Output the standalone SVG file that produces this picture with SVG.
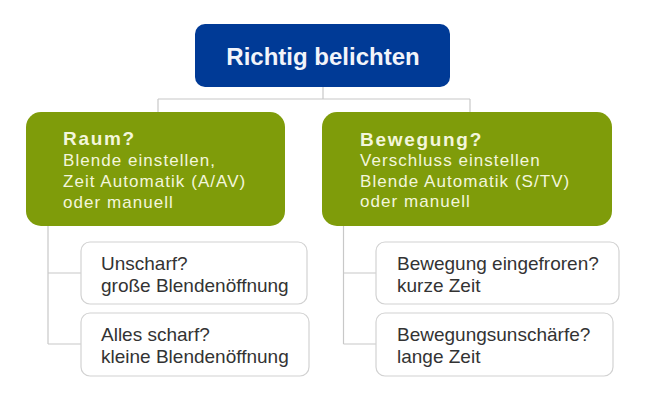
<svg xmlns="http://www.w3.org/2000/svg" width="646" height="400" viewBox="0 0 646 400">
<style>
.conn{fill:none;stroke:#c8c8c8;stroke-width:1.2}
.top{fill:#003a96}
.green{fill:#7f9c0a}
.child{fill:#ffffff;stroke:#d2d2d2;stroke-width:1.2}
.ttop{font-family:"Liberation Sans",Arial,sans-serif;font-weight:bold;font-size:24px;fill:#f2f4fa}
.gh{font-family:"Liberation Sans",Arial,sans-serif;font-weight:bold;font-size:19px;letter-spacing:1.7px;fill:#f3f6dc}
.gt{font-family:"Liberation Sans",Arial,sans-serif;font-size:17px;letter-spacing:1.05px;fill:#f3f6dc}
.ct{font-family:"Liberation Sans",Arial,sans-serif;font-size:19px;fill:#333333}
</style>
<rect width="646" height="400" fill="#ffffff"/>
<g id="connectors">
<path class="conn" d="M323 87 V99 M158 99 H470 M158 99 V112 M470 99 V112"/>
<path class="conn" d="M48 226 V344 M48 273 H81 M48 344 H81"/>
<path class="conn" d="M343.5 226 V344 M343.5 273 H376 M343.5 344 H376"/>
</g>
<g id="root">
<rect class="top" x="195" y="24" width="255" height="63" rx="10"/>
<text class="ttop" x="323" y="65" text-anchor="middle">Richtig belichten</text>
</g>
<g id="raum">
<rect class="green" x="26" y="112" width="259" height="114" rx="15"/>
<text class="gh" x="63" y="145">Raum?</text>
<text class="gt" x="63" y="166">Blende einstellen,</text>
<text class="gt" x="63" y="187">Zeit Automatik (A/AV)</text>
<text class="gt" x="63" y="208">oder manuell</text>
</g>
<g id="bewegung">
<rect class="green" x="322" y="112" width="290" height="114" rx="15"/>
<text class="gh" x="360" y="145.5">Bewegung?</text>
<text class="gt" x="360" y="166">Verschluss einstellen</text>
<text class="gt" x="360" y="186.5">Blende Automatik (S/TV)</text>
<text class="gt" x="360" y="207">oder manuell</text>
</g>
<g id="unscharf">
<rect class="child" x="81" y="242" width="226" height="62" rx="9"/>
<text class="ct" x="101" y="270">Unscharf?</text>
<text class="ct" x="101" y="292">große Blendenöffnung</text>
</g>
<g id="allesscharf">
<rect class="child" x="81" y="313" width="228" height="63" rx="9"/>
<text class="ct" x="101" y="341">Alles scharf?</text>
<text class="ct" x="101" y="363">kleine Blendenöffnung</text>
</g>
<g id="eingefroren">
<rect class="child" x="376" y="242" width="243" height="62" rx="9"/>
<text class="ct" x="397" y="270">Bewegung eingefroren?</text>
<text class="ct" x="397" y="292">kurze Zeit</text>
</g>
<g id="unschaerfe">
<rect class="child" x="376" y="313" width="237" height="63" rx="9"/>
<text class="ct" x="397" y="341">Bewegungsunschärfe?</text>
<text class="ct" x="397" y="363">lange Zeit</text>
</g>
</svg>
